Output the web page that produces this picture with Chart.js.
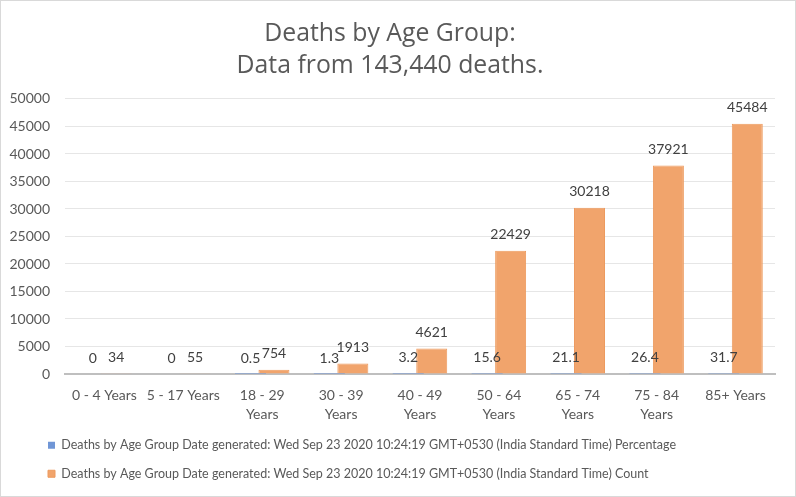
<!DOCTYPE html>
<html lang="en">
<head>
<meta charset="UTF-8">
<title>Deaths by Age Group</title>
<style>
    body { margin: 0; background: #fff; }
    .frame {
        width: 796px;
        height: 497px;
        box-sizing: border-box;
        border: 1px solid #d9d9d9;
        background: #fff;
    }
</style>
</head>
<body>
<div class="frame">
    <canvas id="ageChart"></canvas>
</div>

<script src="https://cdn.jsdelivr.net/npm/chart.js"></script>
<script>
    // data
    const ageGroups = [
        '0 - 4 Years', '5 - 17 Years', ['18 - 29', 'Years'], ['30 - 39', 'Years'],
        ['40 - 49', 'Years'], ['50 - 64', 'Years'], ['65 - 74', 'Years'],
        ['75 - 84', 'Years'], '85+ Years'
    ];
    const percentValues = [0, 0, 0.5, 1.3, 3.2, 15.6, 21.1, 26.4, 31.7];
    const countValues = [34, 55, 754, 1913, 4621, 22429, 30218, 37921, 45484];
    const yTicks = [0, 5000, 10000, 15000, 20000, 25000, 30000, 35000, 40000, 45000, 50000];

    const seriesPrefix = 'Deaths by Age Group Date generated: Wed Sep 23 2020 10:24:19 GMT+0530 (India Standard Time) ';
    const FONT = "Lato, 'Open Sans', sans-serif";

    // value labels above every bar
    const barLabels = {
        id: 'barLabels',
        afterDatasetsDraw(chart) {
            const ctx = chart.ctx;
            ctx.save();
            ctx.font = '14px ' + FONT;
            ctx.fillStyle = '#404040';
            ctx.textAlign = 'center';
            ctx.textBaseline = 'bottom';
            chart.data.datasets.forEach((ds, i) => {
                chart.getDatasetMeta(i).data.forEach((bar, j) => {
                    ctx.fillText(String(ds.data[j]), bar.x, bar.y - 9);
                });
            });
            ctx.restore();
        }
    };

    // move the legend in line with the left of the tick labels
    const legendShift = {
        id: 'legendShift',
        afterLayout(chart) {
            chart.legend.left = 31;
        }
    };

    const ctx = document.getElementById('ageChart').getContext('2d');
    const ageChart = new Chart(ctx, {
        type: 'bar',
        data: {
            labels: ageGroups,
            datasets: [{
                label: seriesPrefix + 'Percentage',
                data: percentValues,
                backgroundColor: '#7096d6',
                borderColor: '#7096d6',
                borderWidth: 0
            }, {
                label: seriesPrefix + 'Count',
                data: countValues,
                backgroundColor: '#f1a46c',
                borderColor: '#ed9a5e',
                borderWidth: 1
            }]
        },
        options: {
            responsive: true,
            maintainAspectRatio: false,
            animation: false,
            layout: { padding: { left: 4, right: 20, top: 0, bottom: 6 } },
            datasets: {
                bar: { categoryPercentage: 0.595, barPercentage: 1.32 }
            },
            plugins: {
                title: {
                    display: true,
                    text: ['Deaths by Age Group:', 'Data from 143,440 deaths.'],
                    color: '#595959',
                    font: { family: "'Open Sans', sans-serif", size: 24.8, weight: 'normal', lineHeight: 1.29 },
                    padding: { top: 17, bottom: 17 }
                },
                legend: {
                    position: 'bottom',
                    align: 'start',
                    labels: {
                        boxWidth: 7,
                        boxHeight: 7,
                        padding: 16,
                        color: '#595959',
                        font: { family: FONT, size: 12.5 }
                    }
                },
                tooltip: { enabled: false }
            },
            scales: {
                x: {
                    afterFit(scale) { scale.height = 49; },
                    grid: { display: false, drawTicks: false },
                    border: { color: '#bfbfbf', width: 2 },
                    ticks: {
                        color: '#595959',
                        font: { family: FONT, size: 14, lineHeight: 1.4 },
                        maxRotation: 0,
                        autoSkip: false,
                        padding: 11.5
                    }
                },
                y: {
                    min: 0,
                    max: 50000,
                    afterBuildTicks(scale) {
                        scale.ticks = yTicks.map(v => ({ value: v }));
                    },
                    afterFit(scale) { scale.width = 60; },
                    grid: { color: '#e6e6e6', drawTicks: false },
                    border: { display: false },
                    ticks: {
                        color: '#595959',
                        font: { family: FONT, size: 14 },
                        padding: 15,
                        callback: v => String(v)
                    }
                }
            }
        },
        plugins: [barLabels, legendShift]
    });
</script>
</body>
</html>
